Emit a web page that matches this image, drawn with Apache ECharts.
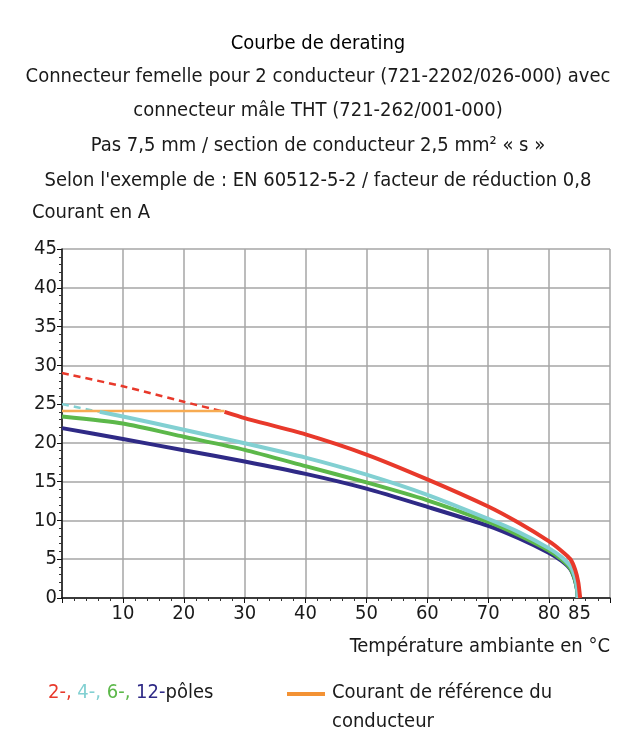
<!DOCTYPE html>
<html>
<head>
<meta charset="utf-8">
<script src="https://cdn.jsdelivr.net/npm/echarts@6/dist/echarts.min.js"></script>
<style>
  html, body { margin: 0; padding: 0; background: #fff; }
  #chart { width: 635px; height: 746px; }
</style>
</head>
<body>
<div id="chart"></div>
<script>
// courbes de derating [temperature, courant]
var red2Dash = [[0, 29.0], [10, 27.3], [20, 25.3], [26.7, 24.0]];
var red2 = [[26.7, 24.0], [30, 23.2], [40, 21.1], [50, 18.5], [60, 15.3], [70, 11.8], [75, 9.7], [80, 7.3], [82, 6.1], [83.5, 5.0], [84.3, 3.6], [84.8, 2.0], [85.1, 0]];
var cyan4Dash = [[0, 25.0], [4, 24.35], [6.2, 24.0]];
var cyan4 = [[6.2, 24.0], [10, 23.4], [20, 21.7], [30, 19.95], [40, 18.1], [50, 15.9], [60, 13.3], [70, 10.2], [75, 8.5], [80, 6.4], [82, 5.3], [83.5, 4.1], [84.2, 2.8], [84.6, 1.2], [84.7, 0]];
var green6 = [[0, 23.4], [10, 22.5], [20, 20.8], [30, 19.1], [40, 17.0], [50, 14.9], [60, 12.6], [70, 9.8], [75, 8.1], [80, 6.1], [82, 5.0], [83.5, 3.8], [84.2, 2.5], [84.6, 1.0], [84.7, 0]];
var blue12 = [[0, 21.9], [10, 20.5], [20, 19.05], [30, 17.6], [40, 16.0], [50, 14.1], [60, 11.75], [70, 9.3], [75, 7.7], [80, 5.8], [82, 4.8], [83.5, 3.7], [84.2, 2.4], [84.6, 1.0], [84.7, 0]];
// courant de reference du conducteur
var refCourant = [[0, 24.1], [26.7, 24.1]];

var xLabels = [10, 20, 30, 40, 50, 60, 70, 80, 85];
var xTicks = [0, 10, 20, 30, 40, 50, 60, 70, 80, 90];

var titres = [
    'Courbe de derating',
    'Connecteur femelle pour 2 conducteur (721-2202/026-000) avec',
    'connecteur mâle THT (721-262/001-000)',
    'Pas 7,5 mm / section de conducteur 2,5 mm² « s »',
    'Selon l\'exemple de : EN 60512-5-2 / facteur de réduction 0,8'
];

var FONT = '"Liberation Sans Narrow", "DejaVu Sans Condensed", "Roboto", sans-serif';
var TXT = '#1a1a1a';

var RED = '#e8392b', CYAN = '#82d0d2', GREEN = '#5cb84a', BLUE = '#2f2a86', ORANGE = '#f7ab52';

var titreY = [44, 77, 111, 146, 181];
var graphics = [];
for (var i = 0; i < titres.length; i++) {
    graphics.push({
        type: 'text', x: 318, y: titreY[i],
        style: {
            text: titres[i], fill: i === 0 ? '#000' : TXT, font: '20px ' + FONT,
            textAlign: 'center', textVerticalAlign: 'middle'
        }
    });
}
graphics.push({
    type: 'text', x: 32, y: 213,
    style: { text: 'Courant en A', fill: TXT, font: '20px ' + FONT, textVerticalAlign: 'middle' }
});
graphics.push({
    type: 'text', x: 610, y: 647,
    style: { text: 'Température ambiante en °C', fill: TXT, font: '20px ' + FONT, textAlign: 'right', textVerticalAlign: 'middle' }
});
// legende
graphics.push({
    type: 'text', x: 48, y: 693,
    style: {
        text: '{r|2-, }{c|4-, }{g|6-, }{b|12-}{k|pôles}',
        font: '20px ' + FONT, textVerticalAlign: 'middle',
        rich: {
            r: { fill: RED, font: '20px ' + FONT },
            c: { fill: CYAN, font: '20px ' + FONT },
            g: { fill: GREEN, font: '20px ' + FONT },
            b: { fill: BLUE, font: '20px ' + FONT },
            k: { fill: TXT, font: '20px ' + FONT }
        }
    }
});
graphics.push({
    type: 'line', shape: { x1: 287, y1: 694, x2: 325, y2: 694 },
    style: { stroke: '#f39234', lineWidth: 4 }
});
graphics.push({
    type: 'text', x: 332, y: 693,
    style: { text: 'Courant de référence du', fill: TXT, font: '20px ' + FONT, textVerticalAlign: 'middle' }
});
graphics.push({
    type: 'text', x: 332, y: 722,
    style: { text: 'conducteur', fill: TXT, font: '20px ' + FONT, textVerticalAlign: 'middle' }
});

function courbe(data, color, width, dashed) {
    return {
        type: 'line',
        data: data,
        smooth: 0.2,
        showSymbol: false,
        silent: true,
        lineStyle: { color: color, width: width, type: dashed ? [7, 5] : 'solid', cap: 'butt', join: 'round' },
        z: 3
    };
}

var chart = echarts.init(document.getElementById('chart'));
chart.setOption({
    animation: false,
    textStyle: { fontFamily: FONT },
    grid: { left: 62, right: 25, top: 249, bottom: 148, containLabel: false },
    xAxis: {
        type: 'value', min: 0, max: 90, interval: 10,
        axisLine: { show: true, onZero: false, lineStyle: { color: '#111', width: 1.5 } },
        axisTick: { show: true, length: 5, customValues: xTicks, lineStyle: { color: '#111' } },
        minorTick: { show: true, splitNumber: 5, length: 3, lineStyle: { color: '#333' } },
        axisLabel: { customValues: xLabels, color: TXT, fontSize: 20, margin: 6, fontFamily: FONT },
        splitLine: { show: true, lineStyle: { color: '#a6a6a6', width: 1.5 } }
    },
    yAxis: {
        type: 'value', min: 0, max: 45, interval: 5,
        axisLine: { show: true, onZero: false, lineStyle: { color: '#111', width: 1.5 } },
        axisTick: { show: true, length: 5, lineStyle: { color: '#111' } },
        minorTick: { show: true, splitNumber: 5, length: 3, lineStyle: { color: '#333' } },
        axisLabel: { color: TXT, fontSize: 20, margin: 5, fontFamily: FONT },
        splitLine: { show: true, lineStyle: { color: '#a6a6a6', width: 1.5 } }
    },
    series: [
        courbe(red2Dash, RED, 2.5, true),
        courbe(cyan4Dash, CYAN, 2.5, true),
        courbe(refCourant, ORANGE, 2.5, false),
        courbe(blue12, BLUE, 4, false),
        courbe(green6, GREEN, 4, false),
        courbe(cyan4, CYAN, 4, false),
        courbe(red2, RED, 4, false)
    ],
    graphic: graphics
});
</script>
</body>
</html>
